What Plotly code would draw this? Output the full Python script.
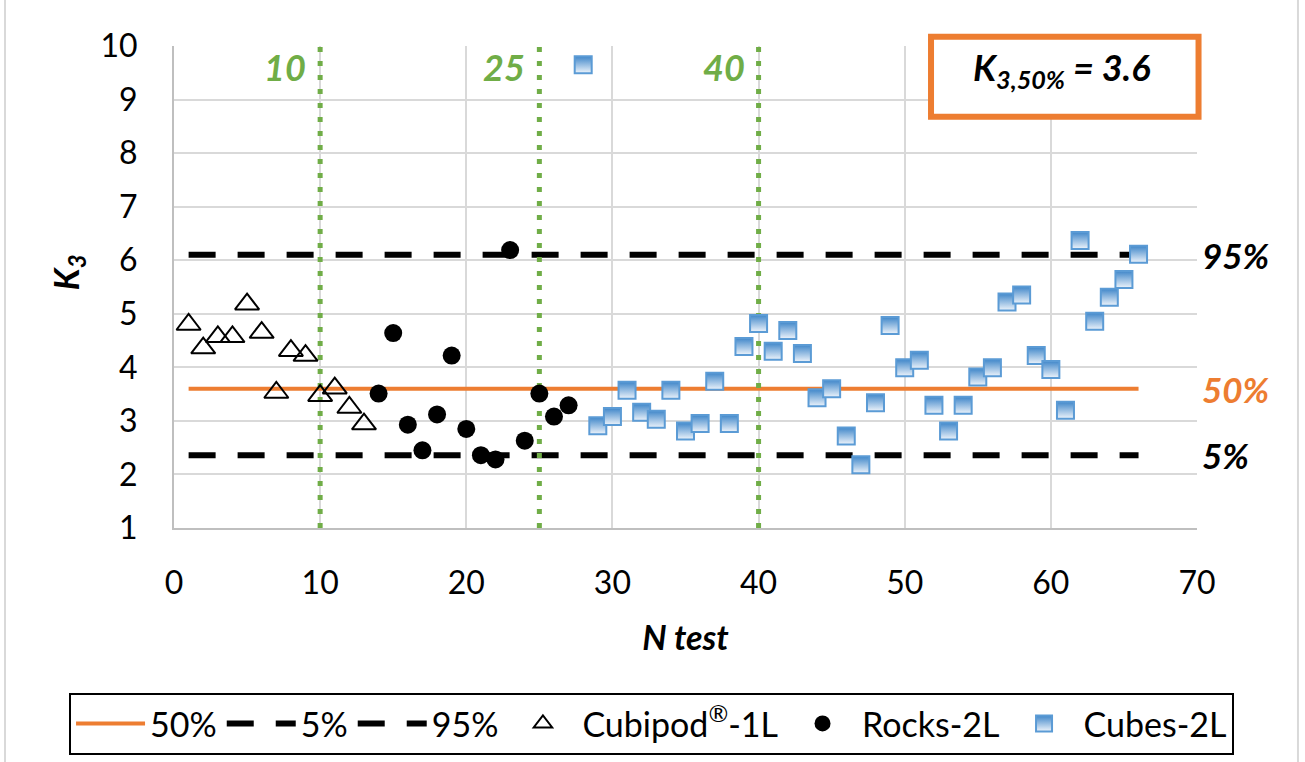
import plotly.graph_objects as go

# Cubipod single layer tests
cubipod_n = [1, 2, 3, 4, 5, 6, 7, 8, 9, 10, 11, 12, 13]
cubipod_k3 = [4.80, 4.36, 4.57, 4.57, 5.18, 4.65, 3.53, 4.31, 4.22, 3.47, 3.61, 3.25, 2.94]

# Rock double layer tests
rocks_n = [14, 15, 16, 17, 18, 19, 20, 21, 22, 23, 24, 25, 26, 27]
rocks_k3 = [3.51, 4.64, 2.93, 2.45, 3.12, 4.22, 2.85, 2.36, 2.28, 6.19, 2.63, 3.51, 3.08, 3.29]

# Cube double layer tests
cubes_n = list(range(28, 67))
cubes_k3 = [9.65, 2.91, 3.08, 3.57, 3.16, 3.03, 3.57, 2.81, 2.95, 3.74, 2.95, 4.39,
            4.82, 4.30, 4.69, 4.26, 3.43, 3.60, 2.72, 2.18, 3.34, 4.78, 3.99, 4.13,
            3.29, 2.81, 3.29, 3.82, 3.99, 5.22, 5.35, 4.22, 3.96, 3.20, 6.37, 4.86,
            5.31, 5.64, 6.11]

# Percentile levels of K3
pct_span = [1, 66]
k3_50 = 3.6
k3_05 = 2.36
k3_95 = 6.1

# Vertical reference test numbers
ref_tests = [10, 25, 40]

x_ticks = [0, 10, 20, 30, 40, 50, 60, 70]
y_ticks = [1, 2, 3, 4, 5, 6, 7, 8, 9, 10]

FONT = "Lato"
ORANGE = "#ED7D31"
GREEN = "#70AD47"
BLUE = "#5B9BD5"
GRID = "#D9D9D9"

fig = go.Figure()

fig.add_trace(go.Scatter(x=pct_span, y=[k3_50] * 2, mode="lines", name="50%",
                         line=dict(color=ORANGE, width=4)))
fig.add_trace(go.Scatter(x=pct_span, y=[k3_05] * 2, mode="lines", name="5%",
                         line=dict(color="black", width=6, dash="27px,22px")))
fig.add_trace(go.Scatter(x=pct_span, y=[k3_95] * 2, mode="lines", name="95%",
                         line=dict(color="black", width=6, dash="27px,22px")))

for n in ref_tests:
    fig.add_trace(go.Scatter(x=[n, n], y=[y_ticks[0], y_ticks[-1]], mode="lines",
                             showlegend=False, hoverinfo="skip",
                             line=dict(color=GREEN, width=5, dash="5px,9px")))

fig.add_trace(go.Scatter(x=cubipod_n, y=cubipod_k3, mode="markers",
                         name="Cubipod<sup>®</sup>-1L",
                         marker=dict(symbol="triangle-up-open", size=21, color="black",
                                     line=dict(width=2, color="black"))))
fig.add_trace(go.Scatter(x=rocks_n, y=rocks_k3, mode="markers", name="Rocks-2L",
                         marker=dict(symbol="circle", size=18, color="black")))
fig.add_trace(go.Scatter(x=cubes_n, y=cubes_k3, mode="markers", name="Cubes-2L",
                         marker=dict(symbol="square", size=17, color="#3F86C9",
                                     gradient=dict(type="vertical", color="#EEF4FB"),
                                     line=dict(width=2, color=BLUE))))

annotations = []
for n in ref_tests:
    annotations.append(dict(x=n, y=9.6, xref="x", yref="y", text=f"<b><i>{n}</i></b>",
                            showarrow=False, xanchor="right", yanchor="middle", xshift=-12,
                            font=dict(family=FONT, size=36, color=GREEN)))

for val, lab, col in [(k3_95, "95%", "black"), (k3_50, "50%", ORANGE), (k3_05, "5%", "black")]:
    annotations.append(dict(x=1.0, y=val, xref="paper", yref="y", text=f"<b><i>{lab}</i></b>",
                            showarrow=False, xanchor="left", yanchor="middle", xshift=3,
                            font=dict(family=FONT, size=35, color=col)))

annotations.append(dict(x=0.868, y=0.952, xref="paper", yref="paper",
                        text=f"<b><i>K<sub>3,50%</sub> = {k3_50}</i></b>",
                        showarrow=False, xanchor="center", yanchor="middle",
                        font=dict(family=FONT, size=36, color="black")))

annotations.append(dict(x=-0.104, y=0.53, xref="paper", yref="paper",
                        text="<b><i>K<sub>3</sub></i></b>", textangle=-90,
                        showarrow=False, xanchor="center", yanchor="middle",
                        font=dict(family=FONT, size=34, color="black")))

fig.update_layout(
    width=1305, height=762,
    margin=dict(l=174, r=108, t=46, b=234, autoexpand=False),
    plot_bgcolor="white", paper_bgcolor="white",
    font=dict(family=FONT, size=32, color="black"),
    showlegend=True,
    legend=dict(orientation="h", x=-0.1026, xanchor="left", y=-0.342, yanchor="top",
                bordercolor="black", borderwidth=2, itemwidth=69,
                font=dict(family=FONT, size=34, color="black"),
                traceorder="normal"),
    annotations=annotations,
    shapes=[
        dict(type="rect", xref="paper", yref="paper", x0=0.740, x1=1.0015, y0=0.853, y1=1.019,
             line=dict(color=ORANGE, width=6), fillcolor="white", layer="above"),
        dict(type="line", xref="paper", yref="paper", x0=-0.1652, x1=-0.1652, y0=1.2, y1=-0.6,
             line=dict(color=GRID, width=2)),
        dict(type="line", xref="paper", yref="paper", x0=1.0987, x1=1.0987, y0=1.2, y1=-0.6,
             line=dict(color=GRID, width=2)),
    ],
)

fig.update_xaxes(range=[x_ticks[0], x_ticks[-1]], tickvals=x_ticks, showgrid=True,
                 gridcolor=GRID, gridwidth=2, zeroline=False, showline=True,
                 linecolor="#BFBFBF", linewidth=2, ticks="", ticklabelstandoff=26,
                 tickfont=dict(family=FONT, size=32),
                 title=dict(text="<b><i>N test</i></b>", standoff=26,
                            font=dict(family=FONT, size=34)))
fig.update_yaxes(range=[y_ticks[0], y_ticks[-1]], tickvals=y_ticks, showgrid=True,
                 gridcolor=GRID, gridwidth=2, zeroline=False, showline=True,
                 linecolor="#BFBFBF", linewidth=2, ticks="", ticklabelstandoff=28,
                 tickfont=dict(family=FONT, size=32))

fig.write_html("out.html")
